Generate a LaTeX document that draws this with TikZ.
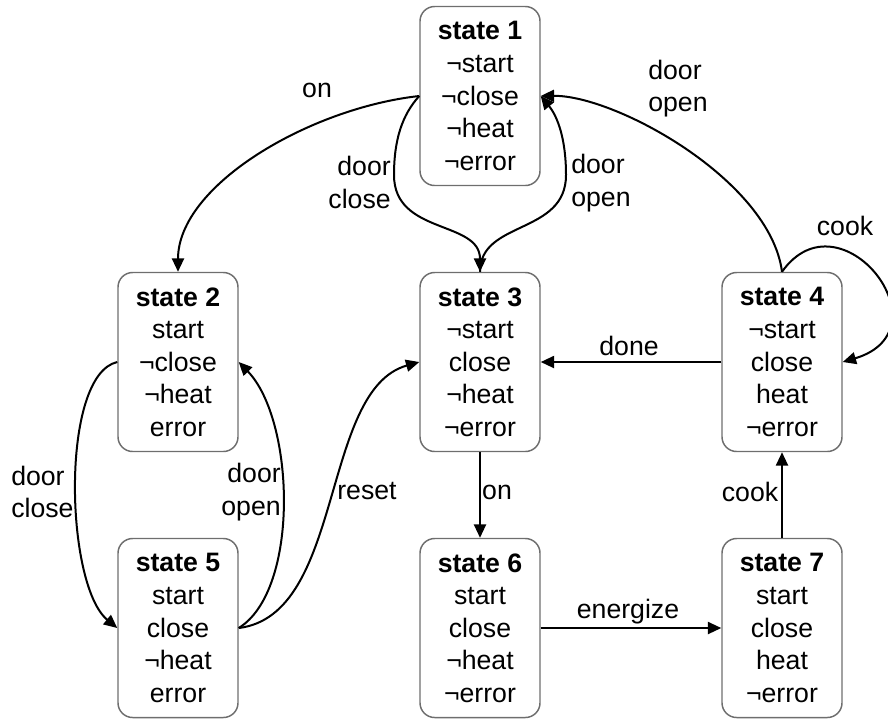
\documentclass[tikz,border=0pt]{standalone}
\usepackage{fontspec}
\setmainfont{Liberation Sans}
\usetikzlibrary{arrows.meta}
\definecolor{boxgray}{RGB}{110,110,110}
\begin{document}
\begin{tikzpicture}[x=0.75pt,y=-0.75pt,
  statebox/.style={draw=boxgray, line width=1.1pt, rounded corners=11pt,
    minimum width=90pt, minimum height=134.25pt, inner sep=0pt, align=center,
    font=\fontsize{20}{24.4}\selectfont},
  lbl/.style={inner sep=0pt, font=\fontsize{20}{24.4}\selectfont},
  conn/.style={line width=1.5pt, -{Triangle[length=10pt,width=9pt]}}]
\useasboundingbox (0,0) rectangle (888,719);

\node[statebox] (s1) at (480,96)  {\textbf{state 1}\\¬start\\¬close\\¬heat\\¬error};
\node[statebox] (s2) at (178,362) {\textbf{state 2}\\start\\¬close\\¬heat\\error};
\node[statebox] (s3) at (480,362) {\textbf{state 3}\\¬start\\close\\¬heat\\¬error};
\node[statebox] (s4) at (782,362) {\textbf{state 4}\\¬start\\close\\heat\\¬error};
\node[statebox] (s5) at (178,628) {\textbf{state 5}\\start\\close\\¬heat\\error};
\node[statebox] (s6) at (480,628) {\textbf{state 6}\\start\\close\\¬heat\\¬error};
\node[statebox] (s7) at (782,628) {\textbf{state 7}\\start\\close\\heat\\¬error};

% connectors
\draw[conn] (s1.west) .. controls (310,108) and (178,185) .. (s2.north);
\draw[conn] (s1.west) .. controls (402,115) and (394,140) .. (394,175)
                      .. controls (394,235) and (480,220) .. (s3.north);
\draw[conn] (s3.north) .. controls (480,220) and (566,235) .. (566,175)
                       .. controls (566,140) and (558,117) .. (s1.east);
\draw[conn] (s4.north) .. controls (770,180) and (615,95) .. (s1.east);
\draw[conn] (s4.north) .. controls (840,190) and (950,330) .. (s4.east);
\draw[conn] (s4.west) -- (s3.east);
\draw[conn] (s2.west) .. controls (60,375) and (65,585) .. (s5.west);
\draw[conn] (s5.east) .. controls (300,590) and (295,420) .. (s2.east);
\draw[conn] (s5.east) .. controls (345,615) and (320,390) .. (s3.west);
\draw[conn] (s3.south) -- (s6.north);
\draw[conn] (s6.east) -- (s7.west);
\draw[conn] (s7.north) -- (s4.south);

% labels
\node[lbl] (l1) at (317,90) {on};
\node[lbl, align=right, anchor=east] (l2) at (391,182.5) {door\\close};
\node[lbl, align=left, anchor=west] (l3) at (571,183) {door\\open};
\node[lbl, align=left, anchor=west] (l4) at (648,88.5) {door\\open};
\node[lbl] (l5) at (845,226) {cook};
\node[lbl] (l6) at (629,346) {done};
\node[lbl, align=left, anchor=west] (l7) at (11,492) {door\\close};
\node[lbl, align=right, anchor=east] (l8) at (281,492) {door\\open};
\node[lbl] (l9) at (367,491) {reset};
\node[lbl] (l10) at (497,492) {on};
\node[lbl] (l11) at (628,612) {energize};
\node[lbl] (l12) at (750,492) {cook};
\end{tikzpicture}
\end{document}
